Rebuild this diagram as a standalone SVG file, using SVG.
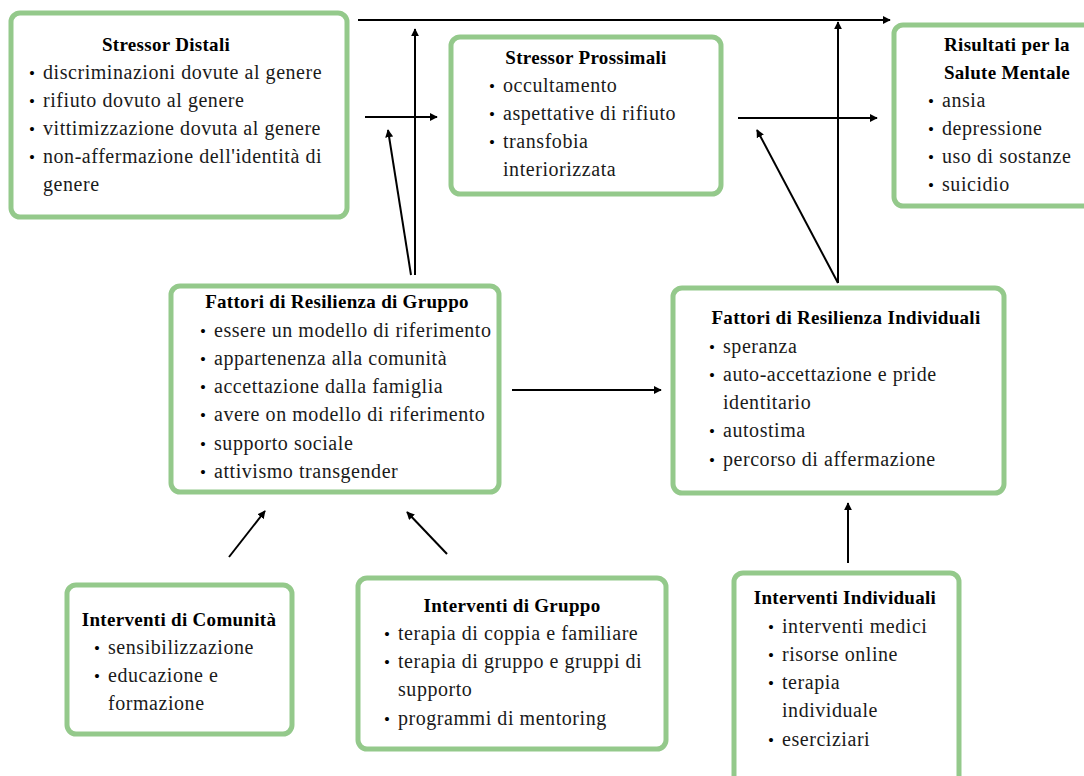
<svg xmlns="http://www.w3.org/2000/svg" width="1084" height="776" viewBox="0 0 1084 776">
<defs>
<marker id="ah" viewBox="0 0 10 10" refX="9" refY="5" markerWidth="8" markerHeight="8" markerUnits="userSpaceOnUse" orient="auto">
<path d="M0,0 L10,5 L0,10 z" fill="#000"/>
</marker>
<style>
.box{fill:#fff;stroke:#94c98b;stroke-width:5}
.txt text{font-size:20px;letter-spacing:0.55px;fill:#1a1a1a}
.txt .t{font-weight:bold;font-size:19px;letter-spacing:0.3px;text-anchor:middle;fill:#000}
.txt .b{font-size:17px;letter-spacing:0;fill:#000}
.c{stroke:#000;stroke-width:2;fill:none;marker-end:url(#ah)}
</style>
</defs>
<rect width="1084" height="776" fill="#fff"/>
<g id="connectors">
<line class="c" x1="358" y1="20" x2="890" y2="20"/>
<line class="c" x1="415" y1="275" x2="415" y2="29"/>
<line class="c" x1="365" y1="117" x2="437" y2="117"/>
<line class="c" x1="411" y1="275" x2="388" y2="130"/>
<line class="c" x1="738" y1="118" x2="877" y2="118"/>
<line class="c" x1="838" y1="283" x2="838" y2="22"/>
<line class="c" x1="838" y1="283" x2="757" y2="130"/>
<line class="c" x1="512" y1="390" x2="661" y2="390"/>
<line class="c" x1="229" y1="557" x2="265" y2="511"/>
<line class="c" x1="447" y1="554" x2="407" y2="512"/>
<line class="c" x1="848" y1="563" x2="848" y2="503"/>
</g>
<g class="txt" font-family="'Liberation Serif', 'Times New Roman', serif">
<g id="stressor-distali">
<rect class="box" x="11" y="13" width="336" height="204" rx="9"/>
<text class="t" x="166" y="51">Stressor Distali</text>
<text class="b" x="29" y="79">•</text><text x="43" y="79">discriminazioni dovute al genere</text>
<text class="b" x="29" y="107">•</text><text x="43" y="107">rifiuto dovuto al genere</text>
<text class="b" x="29" y="135">•</text><text x="43" y="135">vittimizzazione dovuta al genere</text>
<text class="b" x="29" y="163">•</text><text x="43" y="163">non-affermazione dell'identità di</text>
<text x="43" y="191">genere</text>
</g>
<g id="stressor-prossimali">
<rect class="box" x="451" y="37" width="270" height="157" rx="9"/>
<text class="t" x="586" y="64">Stressor Prossimali</text>
<text class="b" x="489" y="92">•</text><text x="503" y="92">occultamento</text>
<text class="b" x="489" y="120">•</text><text x="503" y="120">aspettative di rifiuto</text>
<text class="b" x="489" y="148">•</text><text x="503" y="148">transfobia</text>
<text x="503" y="176">interiorizzata</text>
</g>
<g id="risultati">
<rect class="box" x="894" y="25" width="200" height="181" rx="9"/>
<text class="t" x="1007" y="51">Risultati per la</text>
<text class="t" x="1007" y="79">Salute Mentale</text>
<text class="b" x="928" y="107">•</text><text x="942" y="107">ansia</text>
<text class="b" x="928" y="135">•</text><text x="942" y="135">depressione</text>
<text class="b" x="928" y="163">•</text><text x="942" y="163">uso di sostanze</text>
<text class="b" x="928" y="191">•</text><text x="942" y="191">suicidio</text>
</g>
<g id="resilienza-gruppo">
<rect class="box" x="171" y="286" width="328" height="206" rx="9"/>
<text class="t" x="337" y="308">Fattori di Resilienza di Gruppo</text>
<text class="b" x="200" y="337">•</text><text x="214" y="337">essere un modello di riferimento</text>
<text class="b" x="200" y="365">•</text><text x="214" y="365">appartenenza alla comunità</text>
<text class="b" x="200" y="393">•</text><text x="214" y="393">accettazione dalla famiglia</text>
<text class="b" x="200" y="421">•</text><text x="214" y="421">avere on modello di riferimento</text>
<text class="b" x="200" y="450">•</text><text x="214" y="450">supporto sociale</text>
<text class="b" x="200" y="478">•</text><text x="214" y="478">attivismo transgender</text>
</g>
<g id="resilienza-individuali">
<rect class="box" x="673" y="288" width="331" height="205" rx="9"/>
<text class="t" x="846" y="324">Fattori di Resilienza Individuali</text>
<text class="b" x="709" y="353">•</text><text x="723" y="353">speranza</text>
<text class="b" x="709" y="381">•</text><text x="723" y="381">auto-accettazione e pride</text>
<text x="723" y="409">identitario</text>
<text class="b" x="709" y="437">•</text><text x="723" y="437">autostima</text>
<text class="b" x="709" y="466">•</text><text x="723" y="466">percorso di affermazione</text>
</g>
<g id="interventi-comunita">
<rect class="box" x="67" y="585" width="225" height="149" rx="9"/>
<text class="t" x="179" y="626">Interventi di Comunità</text>
<text class="b" x="94" y="654">•</text><text x="108" y="654">sensibilizzazione</text>
<text class="b" x="94" y="682">•</text><text x="108" y="682">educazione e</text>
<text x="108" y="710">formazione</text>
</g>
<g id="interventi-gruppo">
<rect class="box" x="358" y="578" width="308" height="171" rx="9"/>
<text class="t" x="512" y="612">Interventi di Gruppo</text>
<text class="b" x="384" y="640">•</text><text x="398" y="640">terapia di coppia e familiare</text>
<text class="b" x="384" y="668">•</text><text x="398" y="668">terapia di gruppo e gruppi di</text>
<text x="398" y="696">supporto</text>
<text class="b" x="384" y="725">•</text><text x="398" y="725">programmi di mentoring</text>
</g>
<g id="interventi-individuali">
<rect class="box" x="734" y="573" width="225" height="215" rx="9"/>
<text class="t" x="845" y="604">Interventi Individuali</text>
<text class="b" x="768" y="633">•</text><text x="782" y="633">interventi medici</text>
<text class="b" x="768" y="661">•</text><text x="782" y="661">risorse online</text>
<text class="b" x="768" y="689">•</text><text x="782" y="689">terapia</text>
<text x="782" y="717">individuale</text>
<text class="b" x="768" y="746">•</text><text x="782" y="746">eserciziari</text>
</g>
</g>
</svg>
